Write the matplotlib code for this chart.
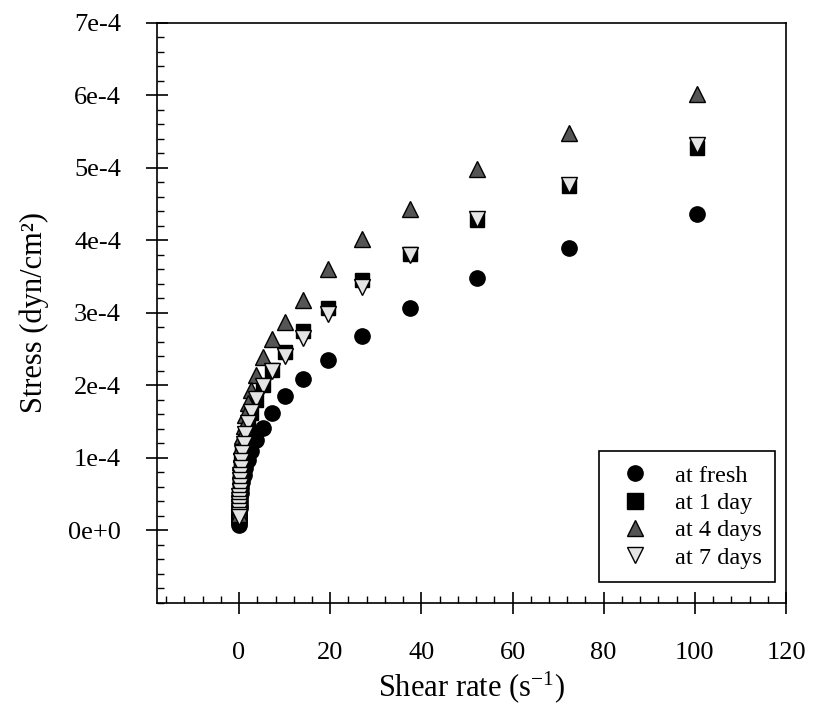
import matplotlib
matplotlib.use("Agg")
import matplotlib.pyplot as plt
from matplotlib.ticker import MultipleLocator

# shear rate (1/s) and stress (dyn/cm2)
shear_rate = [100.5, 72.4, 52.1, 37.5, 27.0, 19.5, 14.0, 10.1, 7.28, 5.24,
              3.77, 2.72, 1.96, 1.41, 1.01, 0.73, 0.526, 0.379, 0.273, 0.196,
              0.141, 0.102, 0.0733, 0.0528, 0.038, 0.0273, 0.0197, 0.0142, 0.0102]

fresh = [4.37, 3.90, 3.48, 3.07, 2.68, 2.35, 2.09, 1.85, 1.62, 1.42,
         1.25, 1.10, 0.97, 0.86, 0.76, 0.67, 0.59, 0.52, 0.46, 0.40,
         0.35, 0.31, 0.27, 0.23, 0.20, 0.17, 0.14, 0.11, 0.08]
day1 = [5.28, 4.75, 4.28, 3.81, 3.45, 3.07, 2.75, 2.46, 2.22, 2.00,
        1.80, 1.62, 1.46, 1.31, 1.18, 1.06, 0.95, 0.85, 0.76, 0.68,
        0.61, 0.54, 0.48, 0.42, 0.37, 0.32, 0.27, 0.22, 0.18]
day4 = [6.02, 5.48, 4.99, 4.43, 4.02, 3.61, 3.18, 2.87, 2.64, 2.39,
        2.14, 1.94, 1.76, 1.59, 1.44, 1.30, 1.17, 1.05, 0.94, 0.84,
        0.75, 0.67, 0.59, 0.52, 0.45, 0.39, 0.33, 0.28, 0.23]
day7 = [5.32, 4.77, 4.30, 3.80, 3.36, 2.98, 2.66, 2.40, 2.20, 1.99,
        1.82, 1.64, 1.48, 1.33, 1.19, 1.07, 0.96, 0.86, 0.77, 0.69,
        0.61, 0.54, 0.48, 0.42, 0.37, 0.32, 0.27, 0.22, 0.18]
scale = 1e-4  # values above are in units of 1e-4

ytick_vals = [0, 1e-4, 2e-4, 3e-4, 4e-4, 5e-4, 6e-4, 7e-4]
ytick_labels = ["0e+0", "1e-4", "2e-4", "3e-4", "4e-4", "5e-4", "6e-4", "7e-4"]
xtick_vals = [0, 20, 40, 60, 80, 100, 120]

plt.rcParams["font.family"] = ["Liberation Serif", "DejaVu Serif"]
plt.rcParams["mathtext.fontset"] = "custom"
plt.rcParams["mathtext.rm"] = "Liberation Serif"

fig = plt.figure(figsize=(8.13, 7.07), dpi=100)
ax = fig.add_axes([0.1931, 0.1471, 0.7737, 0.8204])

ax.plot(shear_rate, [v * scale for v in fresh], "o", ms=11, color="black",
        mec="black", label="at fresh")
ax.plot(shear_rate, [v * scale for v in day1], "s", ms=10, color="black",
        mec="black", label="at 1 day")
ax.plot(shear_rate, [v * scale for v in day4], "^", ms=12, color="#555555",
        mec="black", mew=1.0, label="at 4 days")
ax.plot(shear_rate, [v * scale for v in day7], "v", ms=12, color="#e4e4e4",
        mec="black", mew=1.0, label="at 7 days")

ax.set_xlim(-18, 120)
ax.set_ylim(-1e-4, 7e-4)
ax.set_xticks(xtick_vals)
ax.set_yticks(ytick_vals)
ax.set_yticklabels(ytick_labels)
ax.xaxis.set_minor_locator(MultipleLocator(4))
ax.yaxis.set_minor_locator(MultipleLocator(2e-5))

ax.tick_params(which="major", direction="inout", length=16, width=1.2,
               labelsize=19)
ax.tick_params(axis="x", which="major", pad=20)
ax.tick_params(axis="y", which="major", pad=18)
ax.tick_params(which="minor", direction="in", length=5, width=1.0)
ax.tick_params(top=False, right=False, which="both")
for s in ax.spines.values():
    s.set_linewidth(1.2)

ax.set_xlabel(r"Shear rate ($\mathregular{s^{-1}}$)", fontsize=22, labelpad=4)
ax.set_ylabel("Stress (dyn/cm²)", fontsize=22, labelpad=14)

leg = ax.legend(loc="lower right", bbox_to_anchor=(0.9825, 0.036),
                fontsize=17.5, frameon=True, fancybox=False, edgecolor="black",
                framealpha=1, borderpad=0.55, handletextpad=0.75,
                labelspacing=0.22, borderaxespad=0, handlelength=1.8)
leg.get_frame().set_linewidth(1.2)
for h in leg.legend_handles:
    h.set_markersize(11)

fig.savefig("out.png", dpi=100)
